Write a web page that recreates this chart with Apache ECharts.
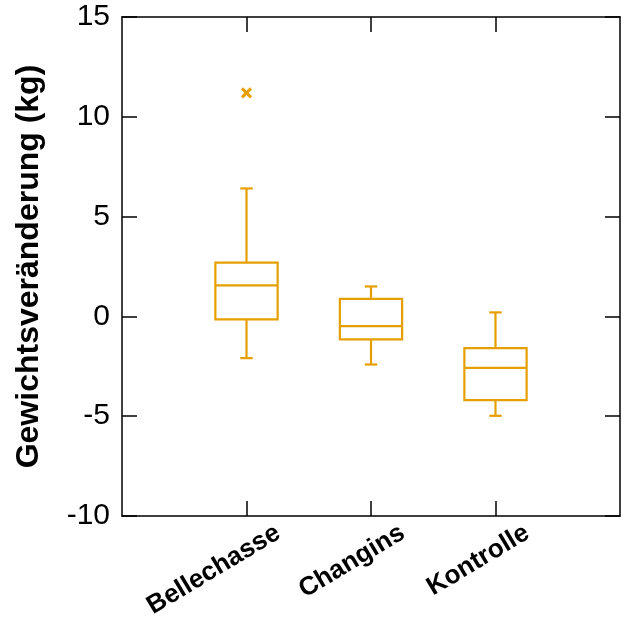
<!DOCTYPE html>
<html>
<head>
<meta charset="utf-8">
<script src="https://cdn.jsdelivr.net/npm/echarts@6/dist/echarts.min.js"></script>
<style>html,body{margin:0;padding:0;background:#fff}#c{width:629px;height:626px}</style>
</head>
<body>
<div id="c"></div>
<script>
// Categories (empty padding slots at both ends)
const categories = ['', 'Bellechasse', 'Changins', 'Kontrolle', ''];
// Box stats: [low whisker, Q1, median, Q3, high whisker]
const bellechasse = [-2.09, -0.15, 1.55, 2.69, 6.41];
const changins = [-2.41, -1.15, -0.49, 0.88, 1.50];
const kontrolle = [-4.98, -4.19, -2.58, -1.59, 0.20];
// Outliers: [category index, value]
const outliers = [[1, 11.2]];
const yTicks = [-10, -5, 0, 5, 10, 15];
const yLabel = 'Gewichtsveränderung (kg)';

const COLOR = '#E69F00';
const FONT = 'Liberation Sans';

const boxData = [
  [1].concat(bellechasse),
  [2].concat(changins),
  [3].concat(kontrolle)
];

const chart = echarts.init(document.getElementById('c'), null, {renderer: 'canvas'});

function renderBox(params, api) {
  const x = api.value(0);
  const low = api.coord([x, api.value(1)]);
  const q1 = api.coord([x, api.value(2)]);
  const med = api.coord([x, api.value(3)]);
  const q3 = api.coord([x, api.value(4)]);
  const high = api.coord([x, api.value(5)]);
  const step = api.coord([2, 0])[0] - api.coord([1, 0])[0];
  const halfW = step * 0.25;
  const capW = step * 0.05;
  const cx = low[0];
  const style = {stroke: COLOR, lineWidth: 2.2, fill: null};
  return {
    type: 'group',
    children: [
      {type: 'rect', shape: {x: cx - halfW, y: q3[1], width: 2 * halfW, height: q1[1] - q3[1]}, style: {stroke: COLOR, lineWidth: 2.2, fill: 'none'}},
      {type: 'line', shape: {x1: cx - halfW, y1: med[1], x2: cx + halfW, y2: med[1]}, style: style},
      {type: 'line', shape: {x1: cx, y1: q3[1], x2: cx, y2: high[1]}, style: style},
      {type: 'line', shape: {x1: cx, y1: q1[1], x2: cx, y2: low[1]}, style: style},
      {type: 'line', shape: {x1: cx - capW, y1: high[1], x2: cx + capW, y2: high[1]}, style: style},
      {type: 'line', shape: {x1: cx - capW, y1: low[1], x2: cx + capW, y2: low[1]}, style: style}
    ]
  };
}

function renderOutlier(params, api) {
  const p = api.coord([api.value(0), api.value(1)]);
  const r = 4.5;
  const style = {stroke: COLOR, lineWidth: 3};
  return {
    type: 'group',
    children: [
      {type: 'line', shape: {x1: p[0] - r, y1: p[1] - r, x2: p[0] + r, y2: p[1] + r}, style: style},
      {type: 'line', shape: {x1: p[0] - r, y1: p[1] + r, x2: p[0] + r, y2: p[1] - r}, style: style}
    ]
  };
}

const tickInterval = function (i) { return i > 0 && i < categories.length - 1; };
const axisLineStyle = {color: '#000', width: 1.5};

chart.setOption({
  animation: false,
  backgroundColor: '#fff',
  grid: {left: 122, right: 9, top: 17, bottom: 110, containLabel: false, outerBoundsMode: 'none'},
  xAxis: [
    {
      type: 'category', position: 'bottom', data: categories, boundaryGap: false,
      axisLine: {onZero: false, lineStyle: axisLineStyle},
      axisTick: {inside: true, length: 15, interval: tickInterval, lineStyle: {color: '#000', width: 1.5}},
      axisLabel: {
        interval: 0, rotate: 31, align: 'right', verticalAlign: 'middle',
        margin: 34, padding: [0, -37, 0, 0],
        fontFamily: FONT, fontWeight: 'bold', fontSize: 26, color: '#000'
      },
      splitLine: {show: false}
    },
    {
      type: 'category', position: 'top', data: categories, boundaryGap: false,
      axisLine: {onZero: false, lineStyle: axisLineStyle},
      axisTick: {inside: true, length: 15, interval: tickInterval, lineStyle: {color: '#000', width: 1.5}},
      axisLabel: {show: false},
      splitLine: {show: false}
    }
  ],
  yAxis: [
    {
      type: 'value', position: 'left', min: yTicks[0], max: yTicks[yTicks.length - 1], interval: 5,
      name: yLabel, nameLocation: 'middle', nameGap: 77,
      nameTextStyle: {fontFamily: FONT, fontWeight: 'bold', fontSize: 32, color: '#000'},
      axisLine: {show: true, onZero: false, lineStyle: axisLineStyle},
      axisTick: {show: true, inside: true, length: 15, lineStyle: {color: '#000', width: 1.5}},
      axisLabel: {margin: 12, fontFamily: FONT, fontSize: 30, color: '#000'},
      splitLine: {show: false}
    },
    {
      type: 'value', position: 'right', min: yTicks[0], max: yTicks[yTicks.length - 1], interval: 5,
      axisLine: {show: true, onZero: false, lineStyle: axisLineStyle},
      axisTick: {show: true, inside: true, length: 15, lineStyle: {color: '#000', width: 1.5}},
      axisLabel: {show: false},
      splitLine: {show: false}
    }
  ],
  series: [
    {type: 'custom', name: 'box', xAxisIndex: 0, yAxisIndex: 0, renderItem: renderBox, data: boxData, encode: {x: 0, y: [1, 2, 3, 4, 5]}, clip: false},
    {type: 'custom', name: 'outlier', xAxisIndex: 0, yAxisIndex: 0, renderItem: renderOutlier, data: outliers, encode: {x: 0, y: 1}}
  ]
});
</script>
</body>
</html>
